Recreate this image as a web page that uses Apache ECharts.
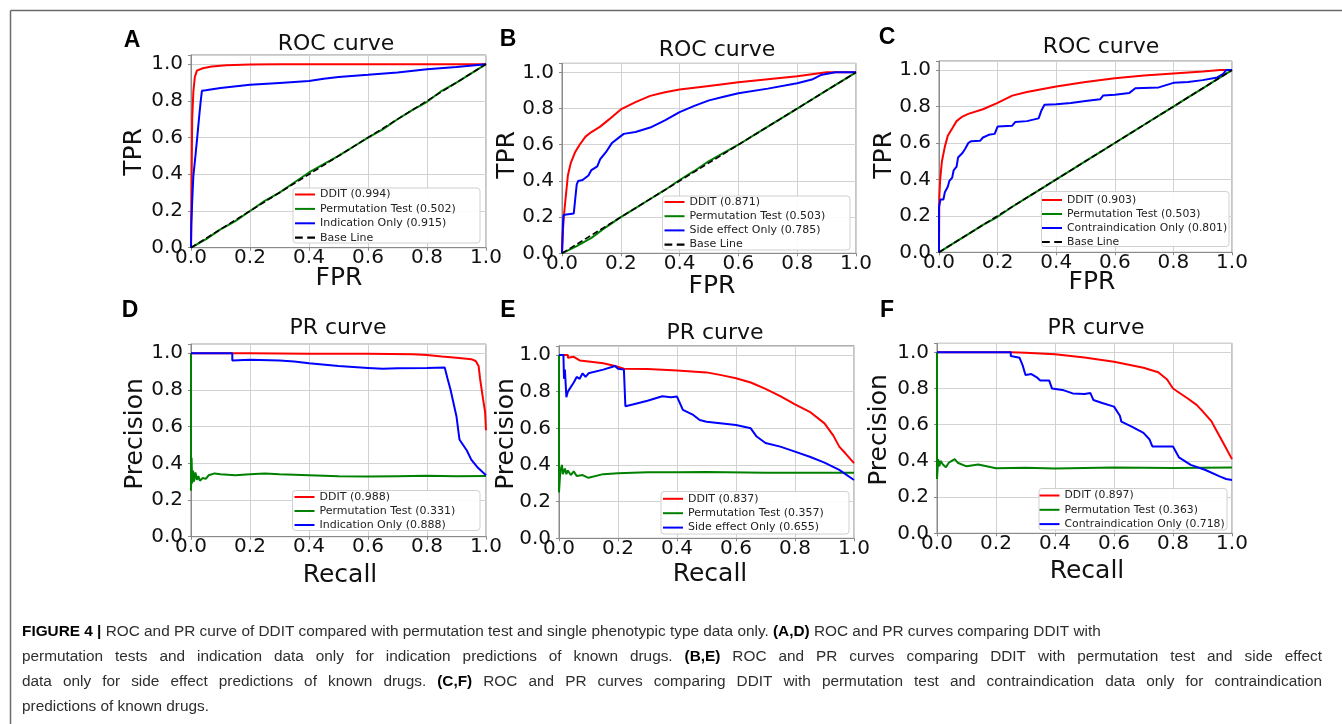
<!DOCTYPE html>
<html><head><meta charset="utf-8">
<script src="https://cdn.jsdelivr.net/npm/echarts@6/dist/echarts.min.js"></script>
<style>html,body{margin:0;padding:0;background:#fff}#c{width:1342px;height:724px}</style>
</head><body><div id="c"></div>
<script>
// ---------- DATA ----------
const tickLabels = ['0.0','0.2','0.4','0.6','0.8','1.0'];
const baseLine = [[0,0],[1,1]];

// A: ROC, indication
const A_ddit = [[0,0],[0.002,0.35],[0.004,0.7],[0.008,0.85],[0.013,0.93],[0.02,0.965],[0.04,0.978],[0.07,0.987],[0.12,0.994],[0.2,0.998],[0.3,1.0],[1,1]];
const A_perm = [[0,0],[0.05,0.045],[0.1,0.1],[0.15,0.145],[0.2,0.2],[0.25,0.255],[0.3,0.3],[0.35,0.355],[0.4,0.41],[0.45,0.455],[0.5,0.5],[0.55,0.55],[0.6,0.6],[0.65,0.645],[0.7,0.7],[0.75,0.75],[0.8,0.795],[0.85,0.855],[0.9,0.9],[0.95,0.95],[1,1]];
const A_only = [[0,0],[0.001,0.12],[0.004,0.25],[0.008,0.39],[0.015,0.5],[0.021,0.6],[0.028,0.72],[0.033,0.8],[0.037,0.855],[0.05,0.858],[0.1,0.87],[0.2,0.888],[0.3,0.898],[0.4,0.908],[0.45,0.92],[0.5,0.93],[0.6,0.942],[0.7,0.955],[0.8,0.972],[0.9,0.985],[1,1]];

// B: ROC, side effect
const B_ddit = [[0,0],[0.003,0.12],[0.006,0.2],[0.012,0.3],[0.02,0.43],[0.03,0.5],[0.045,0.56],[0.06,0.6],[0.08,0.645],[0.1,0.67],[0.13,0.7],[0.16,0.74],[0.2,0.795],[0.25,0.835],[0.3,0.87],[0.35,0.89],[0.4,0.905],[0.5,0.925],[0.6,0.945],[0.7,0.962],[0.8,0.978],[0.85,0.99],[0.9,1],[1,1]];
const B_perm = [[0,0],[0.05,0.04],[0.1,0.085],[0.15,0.145],[0.2,0.2],[0.25,0.25],[0.3,0.3],[0.35,0.35],[0.4,0.405],[0.45,0.455],[0.5,0.51],[0.55,0.555],[0.6,0.6],[0.65,0.65],[0.7,0.7],[0.75,0.75],[0.8,0.8],[0.85,0.85],[0.9,0.9],[0.95,0.95],[1,1]];
const B_only = [[0,0],[0.003,0.15],[0.005,0.21],[0.015,0.215],[0.04,0.22],[0.045,0.3],[0.05,0.38],[0.055,0.4],[0.07,0.405],[0.09,0.43],[0.1,0.46],[0.12,0.48],[0.13,0.52],[0.15,0.56],[0.17,0.61],[0.19,0.635],[0.21,0.66],[0.25,0.67],[0.3,0.695],[0.35,0.735],[0.4,0.78],[0.45,0.815],[0.5,0.845],[0.55,0.865],[0.6,0.885],[0.7,0.91],[0.8,0.94],[0.85,0.96],[0.88,0.985],[0.93,1],[1,1]];

// C: ROC, contraindication
const C_ddit = [[0,0],[0.001,0.3],[0.004,0.4],[0.01,0.5],[0.02,0.58],[0.03,0.64],[0.045,0.68],[0.06,0.72],[0.08,0.745],[0.1,0.76],[0.15,0.785],[0.2,0.82],[0.25,0.86],[0.3,0.88],[0.4,0.91],[0.5,0.935],[0.6,0.955],[0.7,0.97],[0.8,0.982],[0.9,0.992],[0.96,1],[1,1]];
const C_perm = [[0,0],[0.05,0.05],[0.1,0.1],[0.15,0.15],[0.2,0.195],[0.25,0.25],[0.3,0.3],[0.35,0.35],[0.4,0.4],[0.45,0.45],[0.5,0.5],[0.55,0.55],[0.6,0.6],[0.65,0.65],[0.7,0.7],[0.75,0.75],[0.8,0.8],[0.85,0.85],[0.9,0.9],[0.95,0.95],[1,1]];
const C_only = [[0,0],[0,0.25],[0.005,0.29],[0.015,0.29],[0.02,0.33],[0.03,0.36],[0.035,0.39],[0.045,0.41],[0.05,0.45],[0.06,0.47],[0.065,0.52],[0.08,0.545],[0.09,0.57],[0.1,0.6],[0.11,0.61],[0.14,0.612],[0.15,0.63],[0.17,0.645],[0.19,0.65],[0.2,0.69],[0.25,0.695],[0.26,0.715],[0.3,0.72],[0.34,0.735],[0.35,0.78],[0.36,0.81],[0.4,0.812],[0.45,0.82],[0.5,0.83],[0.55,0.84],[0.56,0.86],[0.6,0.865],[0.65,0.875],[0.67,0.9],[0.75,0.905],[0.8,0.93],[0.85,0.935],[0.9,0.945],[0.95,0.96],[0.97,0.98],[0.98,1],[1,1]];

// D: PR, indication
const D_ddit = [[0,1],[0.2,1.0],[0.4,0.998],[0.6,0.997],[0.75,0.995],[0.8,0.99],[0.85,0.982],[0.9,0.975],[0.95,0.968],[0.965,0.958],[0.975,0.93],[0.98,0.86],[0.99,0.75],[0.997,0.68],[1,0.58]];
const D_perm = [[0,1],[0,0.25],[0.002,0.43],[0.004,0.29],[0.007,0.36],[0.01,0.3],[0.015,0.35],[0.02,0.31],[0.025,0.33],[0.03,0.305],[0.04,0.32],[0.05,0.315],[0.06,0.335],[0.08,0.345],[0.1,0.34],[0.15,0.335],[0.2,0.34],[0.25,0.345],[0.3,0.34],[0.4,0.335],[0.5,0.33],[0.6,0.328],[0.7,0.33],[0.8,0.332],[0.9,0.33],[1,0.331]];
const D_only = [[0,1],[0.14,1],[0.14,0.96],[0.2,0.965],[0.3,0.96],[0.35,0.955],[0.4,0.945],[0.5,0.93],[0.6,0.92],[0.65,0.915],[0.7,0.918],[0.8,0.92],[0.86,0.922],[0.87,0.86],[0.88,0.8],[0.9,0.655],[0.91,0.53],[0.935,0.47],[0.95,0.42],[0.97,0.38],[0.99,0.35],[1,0.335]];

// E: PR, side effect
const E_ddit = [[0,1],[0.03,1.0],[0.03,0.985],[0.05,0.99],[0.07,0.97],[0.1,0.965],[0.15,0.955],[0.19,0.94],[0.22,0.925],[0.3,0.923],[0.4,0.915],[0.5,0.905],[0.55,0.89],[0.6,0.873],[0.65,0.85],[0.7,0.815],[0.75,0.775],[0.8,0.73],[0.85,0.69],[0.9,0.627],[0.93,0.56],[0.95,0.5],[0.97,0.465],[1,0.41]];
const E_perm = [[0,1],[0,0.25],[0.003,0.33],[0.005,0.37],[0.01,0.4],[0.013,0.35],[0.02,0.38],[0.025,0.35],[0.03,0.37],[0.04,0.345],[0.05,0.365],[0.06,0.34],[0.08,0.345],[0.1,0.33],[0.15,0.35],[0.2,0.355],[0.3,0.36],[0.4,0.36],[0.5,0.362],[0.7,0.358],[0.85,0.357],[1,0.357]];
const E_only = [[0,1],[0.015,1],[0.017,0.87],[0.02,0.92],[0.025,0.77],[0.03,0.8],[0.05,0.85],[0.06,0.88],[0.07,0.87],[0.08,0.9],[0.09,0.88],[0.1,0.9],[0.15,0.92],[0.19,0.94],[0.2,0.925],[0.22,0.92],[0.225,0.72],[0.25,0.73],[0.3,0.75],[0.35,0.775],[0.38,0.77],[0.4,0.773],[0.42,0.7],[0.455,0.673],[0.477,0.645],[0.5,0.636],[0.6,0.618],[0.65,0.6],[0.67,0.555],[0.7,0.52],[0.75,0.5],[0.8,0.473],[0.85,0.445],[0.9,0.413],[0.95,0.373],[1,0.318]];

// F: PR, contraindication
const F_ddit = [[0,1],[0.25,1],[0.3,0.998],[0.4,0.99],[0.5,0.972],[0.6,0.948],[0.7,0.915],[0.75,0.89],[0.78,0.85],[0.8,0.8],[0.85,0.745],[0.88,0.71],[0.9,0.675],[0.93,0.62],[0.95,0.56],[0.97,0.5],[1,0.41]];
const F_perm = [[0,1],[0,0.3],[0.004,0.41],[0.008,0.37],[0.012,0.4],[0.02,0.38],[0.03,0.365],[0.04,0.39],[0.05,0.4],[0.06,0.41],[0.07,0.39],[0.1,0.37],[0.14,0.38],[0.2,0.36],[0.3,0.362],[0.4,0.358],[0.6,0.363],[0.8,0.361],[1,0.363]];
const F_only = [[0,1],[0.25,1],[0.25,0.98],[0.28,0.97],[0.29,0.93],[0.3,0.875],[0.32,0.88],[0.34,0.86],[0.35,0.845],[0.38,0.845],[0.39,0.8],[0.43,0.79],[0.46,0.773],[0.5,0.77],[0.52,0.775],[0.53,0.737],[0.56,0.72],[0.6,0.7],[0.62,0.65],[0.625,0.617],[0.66,0.59],[0.7,0.555],[0.72,0.52],[0.73,0.48],[0.8,0.48],[0.82,0.42],[0.86,0.378],[0.91,0.35],[0.96,0.313],[0.98,0.3],[1,0.295]];

// legend labels
const A_names = ['DDIT (0.994)','Permutation Test (0.502)','Indication Only (0.915)','Base Line'];
const B_names = ['DDIT (0.871)','Permutation Test (0.503)','Side effect Only (0.785)','Base Line'];
const C_names = ['DDIT (0.903)','Permutation Test (0.503)','Contraindication Only (0.801)','Base Line'];
const D_names = ['DDIT (0.988)','Permutation Test (0.331)','Indication Only (0.888)'];
const E_names = ['DDIT (0.837)','Permutation Test (0.357)','Side effect Only (0.655)'];
const F_names = ['DDIT (0.897)','Permutation Test (0.363)','Contraindication Only (0.718)'];

// ---------- LAYOUT ----------
const panels = [
  {letter:'A', title:'ROC curve', xl:'FPR', yl:'TPR', names:A_names, data:[A_ddit,A_perm,A_only,baseLine],
   grid:{left:191,top:55,width:295,height:192.7}, box:[293,188,187,55], legLeft:295, legTop:189, legGap:3.4, legFont:11,
   lp:[132,41], tp:[336,44], xlp:[339,278], ylp:[134,152]},
  {letter:'B', title:'ROC curve', xl:'FPR', yl:'TPR', names:B_names, data:[B_ddit,B_perm,B_only,baseLine],
   grid:{left:562,top:63.3,width:294,height:190}, box:[662.5,196,187.5,54], legLeft:664.5, legTop:196.5, legGap:3.2, legFont:11,
   lp:[508,40], tp:[717,50], xlp:[712,286], ylp:[507,155]},
  {letter:'C', title:'ROC curve', xl:'FPR', yl:'TPR', names:C_names, data:[C_ddit,C_perm,C_only,baseLine],
   grid:{left:939,top:61,width:293,height:191.3}, box:[1041.5,191.5,187.5,55], legLeft:1042, legTop:194.5, legGap:3, legFont:10.8,
   lp:[887,38], tp:[1101,47], xlp:[1092,282], ylp:[884,155]},
  {letter:'D', title:'PR curve', xl:'Recall', yl:'Precision', names:D_names, data:[D_ddit,D_perm,D_only],
   grid:{left:191,top:344.1,width:295,height:192.6}, box:[292.5,490.5,187.5,40], legLeft:294.5, legTop:491.5, legGap:3, legFont:11,
   lp:[130,311], tp:[338,328], xlp:[340,575], ylp:[135,434]},
  {letter:'E', title:'PR curve', xl:'Recall', yl:'Precision', names:E_names, data:[E_ddit,E_perm,E_only],
   grid:{left:559,top:345.8,width:295,height:192.5}, box:[661,491.5,188,42.5], legLeft:663, legTop:493.3, legGap:3.4, legFont:11,
   lp:[508,311], tp:[715,333], xlp:[710,574], ylp:[506,434]},
  {letter:'F', title:'PR curve', xl:'Recall', yl:'Precision', names:F_names, data:[F_ddit,F_perm,F_only],
   grid:{left:937,top:343.3,width:295,height:190}, box:[1039,488.5,188,41.5], legLeft:1039.5, legTop:490, legGap:3.3, legFont:10.8,
   lp:[887,311], tp:[1096,328], xlp:[1087,571], ylp:[879,430]}
];
const styles = [
  {color:'#ff0000', width:2, type:'solid'},
  {color:'#008000', width:2, type:'solid'},
  {color:'#0000ff', width:2, type:'solid'},
  {color:'#000000', width:1.6, type:[6,3]}
];
const ICON_SOLID = 'path://M0,0 L20,0 L20,2 L0,2 Z';
const ICON_DASH = 'path://M0,0 L7,0 L7,2 L0,2 Z M11,0 L18,0 L18,2 L11,2 Z';
const FONT = 'DejaVu Sans';

const chart = echarts.init(document.getElementById('c'), null, {renderer:'canvas'});
const grids=[], xAxes=[], yAxes=[], series=[], legends=[], graphics=[];
const fmt = v=>{const k=Math.round(v*5);return Math.abs(v*5-k)<1e-6?tickLabels[k]:'';};

panels.forEach((p,i)=>{
  grids.push(Object.assign({show:true, borderColor:'#8a8a8a', borderWidth:1, backgroundColor:'transparent'}, p.grid));
  const axCommon = {gridIndex:i, type:'value', min:0, interval:0.2,
    axisLine:{show:true, lineStyle:{color:'#8a8a8a', width:1}},
    axisTick:{show:true, inside:false, length:3, lineStyle:{color:'#8a8a8a'}},
    splitLine:{show:true, lineStyle:{color:'#d2d2d2', width:1}}};
  xAxes.push(Object.assign({}, axCommon, {max:1,
    axisLabel:{fontFamily:FONT, fontSize:20, color:'#111', margin:0, formatter:fmt}}));
  yAxes.push(Object.assign({}, axCommon, {max:1.05,
    axisLabel:{fontFamily:FONT, fontSize:20, color:'#111', margin:8, formatter:fmt}}));
  p.data.forEach((d,j)=>{
    const s = styles[j];
    series.push({type:'line', name:p.names[j], xAxisIndex:i, yAxisIndex:i, data:d,
      symbol:'none', showSymbol:false, animation:false, silent:true,
      lineStyle:{color:s.color, width:s.width, type:s.type},
      itemStyle:{color:s.color}, z:2+j*0.01});
  });
  graphics.push({type:'rect', z:50, shape:{x:p.box[0], y:p.box[1], width:p.box[2], height:p.box[3], r:3},
    style:{fill:'rgba(255,255,255,0.9)', stroke:'#d0d0d0', lineWidth:1}});
  legends.push({left:p.legLeft, top:p.legTop, orient:'vertical',
    data:p.names.map((n,j)=>({name:n, icon: j===3?ICON_DASH:ICON_SOLID})),
    itemWidth:20, itemHeight:10, itemGap:p.legGap, padding:0, symbolKeepAspect:true,
    selectedMode:false, z:60, itemStyle:{borderWidth:0},
    textStyle:{fontFamily:FONT, fontSize:p.legFont, color:'#222'}});
  graphics.push({type:'text', z:60, x:p.lp[0], y:p.lp[1], style:{text:p.letter, font:'bold 23px "Liberation Sans", Arial, sans-serif', fill:'#000', align:'center', verticalAlign:'middle'}});
  graphics.push({type:'text', z:60, x:p.tp[0], y:p.tp[1], style:{text:p.title, font:'22px "DejaVu Sans"', fill:'#111', align:'center', verticalAlign:'middle'}});
  graphics.push({type:'text', z:60, x:p.xlp[0], y:p.xlp[1], style:{text:p.xl, font:'25px "DejaVu Sans"', fill:'#111', align:'center', verticalAlign:'middle'}});
  graphics.push({type:'text', z:60, x:p.ylp[0], y:p.ylp[1], rotation:Math.PI/2, style:{text:p.yl, font:'25px "DejaVu Sans"', fill:'#111', align:'center', verticalAlign:'middle'}});
});

// frame lines
graphics.push({type:'line', shape:{x1:10.5,y1:10.5,x2:1342,y2:10.5}, style:{stroke:'#6b6b6b', lineWidth:1.5}});
graphics.push({type:'line', shape:{x1:10.5,y1:10.5,x2:10.5,y2:724}, style:{stroke:'#6b6b6b', lineWidth:1.5}});

// caption
const captionLines = [
  {segs:[['FIGURE 4 |',1],[' ROC and PR curve of DDIT compared with permutation test and single phenotypic type data only. ',0],['(A,D)',1],[' ROC and PR curves comparing DDIT with',0]], justify:false},
  {segs:[['permutation tests and indication data only for indication predictions of known drugs. ',0],['(B,E)',1],[' ROC and PR curves comparing DDIT with permutation test and side effect',0]], justify:true},
  {segs:[['data only for side effect predictions of known drugs. ',0],['(C,F)',1],[' ROC and PR curves comparing DDIT with permutation test and contraindication data only for contraindication',0]], justify:true},
  {segs:[['predictions of known drugs.',0]], justify:false}
];
const capX = 22, capW = 1300, capY0 = 632, capDY = 25;
const cctx = document.createElement('canvas').getContext('2d');
const CAPFAM = '"Liberation Sans", Arial, sans-serif';
function fnt(b,size){return (b?'bold ':'')+size+'px '+CAPFAM;}
function lineWords(line){
  const words=[];
  line.segs.forEach(([t,b])=>{ t.split(' ').forEach(w=>{ if(w.length) words.push({w,b}); }); });
  return words;
}
function natWidth(words,size){
  let w=0; words.forEach(o=>{cctx.font=fnt(o.b,size); w+=cctx.measureText(o.w).width;});
  cctx.font=fnt(0,size); w+=cctx.measureText(' ').width*(words.length-1); return w;
}
const w0 = natWidth(lineWords(captionLines[0]),15);
const capSize = Math.max(13, Math.min(17, 15*1079/w0));
captionLines.forEach((line,li)=>{
  const words=lineWords(line);
  cctx.font=fnt(0,capSize);
  let space=cctx.measureText(' ').width;
  let total=0; words.forEach(o=>{cctx.font=fnt(o.b,capSize); o.width=cctx.measureText(o.w).width; total+=o.width;});
  if(line.justify) space=(capW-total)/(words.length-1);
  let x=capX;
  words.forEach(o=>{
    graphics.push({type:'text', x:x, y:capY0+li*capDY, style:{text:o.w, font:fnt(o.b,capSize), fill:o.b?'#000':'#2e2e2e', align:'left', verticalAlign:'middle'}});
    x+=o.width+space;
  });
});

chart.setOption({
  animation:false,
  backgroundColor:'#ffffff',
  grid:grids, xAxis:xAxes, yAxis:yAxes, series:series, legend:legends,
  graphic:{elements:graphics}
});
</script></body></html>
